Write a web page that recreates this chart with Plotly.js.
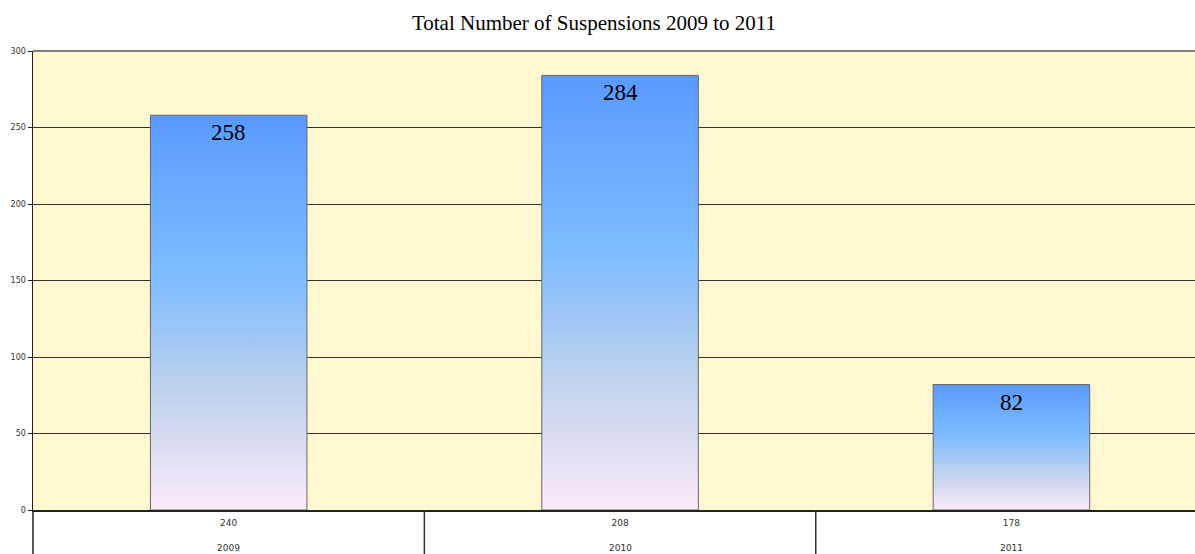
<!DOCTYPE html>
<html>
<head>
<meta charset="utf-8">
<script src="https://cdn.plot.ly/plotly-3.0.1.min.js"></script>
<style>
  html, body { margin: 0; padding: 0; background: #ffffff; }
  #chart { width: 1195px; height: 554px; }
</style>
</head>
<body>
<div id="chart"></div>
<script>
// ---- data ----
const years = ["2009", "2010", "2011"];
const subLabels = ["240", "208", "178"];
const suspensions = [258, 284, 82];
const yTicks = [0, 50, 100, 150, 200, 250, 300];
const chartTitle = "Total Number of Suspensions 2009 to 2011";

const plotH = 459; // plot area height in px (for paper-relative offsets)

const trace = {
  type: "bar",
  x: years,
  y: suspensions,
  width: 0.4,
  marker: { color: "#7DBCFF", line: { color: "#666666", width: 1 } },
  hoverinfo: "x+y"
};

const annotations = years.map((yr, i) => ({
  x: i, y: suspensions[i], xref: "x", yref: "y",
  text: String(suspensions[i]), showarrow: false,
  yanchor: "top", yshift: -3,
  font: { family: "Liberation Serif, Times New Roman, serif", size: 23, color: "#000000" }
})).concat(years.map((yr, i) => ({
  x: i, y: 0, xref: "x", yref: "paper",
  text: yr, showarrow: false, yanchor: "middle", yshift: -38,
  font: { family: "DejaVu Sans, Verdana, sans-serif", size: 9, color: "#333333" }
})));

const shapes = [
  { type: "line", xref: "paper", yref: "paper", x0: 0, x1: 1, y0: 1, y1: 1,
    line: { color: "#808080", width: 2 } },
  { type: "line", xref: "paper", yref: "paper", x0: 0, x1: 0, y0: 0, y1: -44 / plotH,
    line: { color: "#222222", width: 1.5 } },
  { type: "line", xref: "x", yref: "paper", x0: 0.5, x1: 0.5, y0: 0, y1: -44 / plotH,
    line: { color: "#333333", width: 1.5 } },
  { type: "line", xref: "x", yref: "paper", x0: 1.5, x1: 1.5, y0: 0, y1: -44 / plotH,
    line: { color: "#333333", width: 1.5 } }
];

const layout = {
  width: 1195, height: 554,
  margin: { l: 33, r: 0, t: 51, b: 44, pad: 0 },
  paper_bgcolor: "#ffffff",
  plot_bgcolor: "#FFF8D0",
  showlegend: false,
  title: {
    text: chartTitle,
    x: 0.497, xanchor: "center", y: 0.96, yanchor: "middle",
    font: { family: "Liberation Serif, Times New Roman, serif", size: 21, color: "#000000" }
  },
  xaxis: {
    type: "category",
    range: [-0.5, 2.469],
    tickvals: years,
    ticktext: subLabels,
    tickfont: { family: "DejaVu Sans, Verdana, sans-serif", size: 9, color: "#333333" },
    ticks: "",
    ticklabelstandoff: 4,
    showgrid: false,
    showline: true, linecolor: "#222222", linewidth: 1.5,
    zeroline: false, fixedrange: true
  },
  yaxis: {
    range: [0, 300],
    tickvals: yTicks,
    ticktext: yTicks.map(String),
    tickfont: { family: "DejaVu Sans, Verdana, sans-serif", size: 8, color: "#333333" },
    ticks: "outside", ticklen: 4, tickcolor: "#222222", tickwidth: 1,
    showgrid: true, gridcolor: "#333333", gridwidth: 1,
    showline: true, linecolor: "#222222", linewidth: 1.5,
    zeroline: false, fixedrange: true
  },
  annotations: annotations,
  shapes: shapes
};

Plotly.newPlot("chart", [trace], layout, { displayModeBar: false, staticPlot: true }).then(function (gd) {
  const NS = "http://www.w3.org/2000/svg";
  const svg = gd.querySelector(".main-svg");
  let defs = svg.querySelector("defs");
  if (!defs) { defs = document.createElementNS(NS, "defs"); svg.insertBefore(defs, svg.firstChild); }
  const grad = document.createElementNS(NS, "linearGradient");
  grad.setAttribute("id", "barGrad");
  grad.setAttribute("x1", "0"); grad.setAttribute("y1", "0");
  grad.setAttribute("x2", "0"); grad.setAttribute("y2", "1");
  const stops = [[0, "#5A9AFF"], [0.4, "#7DBCFF"], [0.55, "#9DC5F6"], [0.7, "#C0D3EC"], [0.85, "#DEDEF3"], [1, "#FBEBF9"]];
  stops.forEach(function (s) {
    const st = document.createElementNS(NS, "stop");
    st.setAttribute("offset", s[0]);
    st.setAttribute("stop-color", s[1]);
    grad.appendChild(st);
  });
  defs.appendChild(grad);
  gd.querySelectorAll(".bars .point path").forEach(function (p) {
    p.style.fill = "url(#barGrad)";
  });
});
</script>
</body>
</html>
